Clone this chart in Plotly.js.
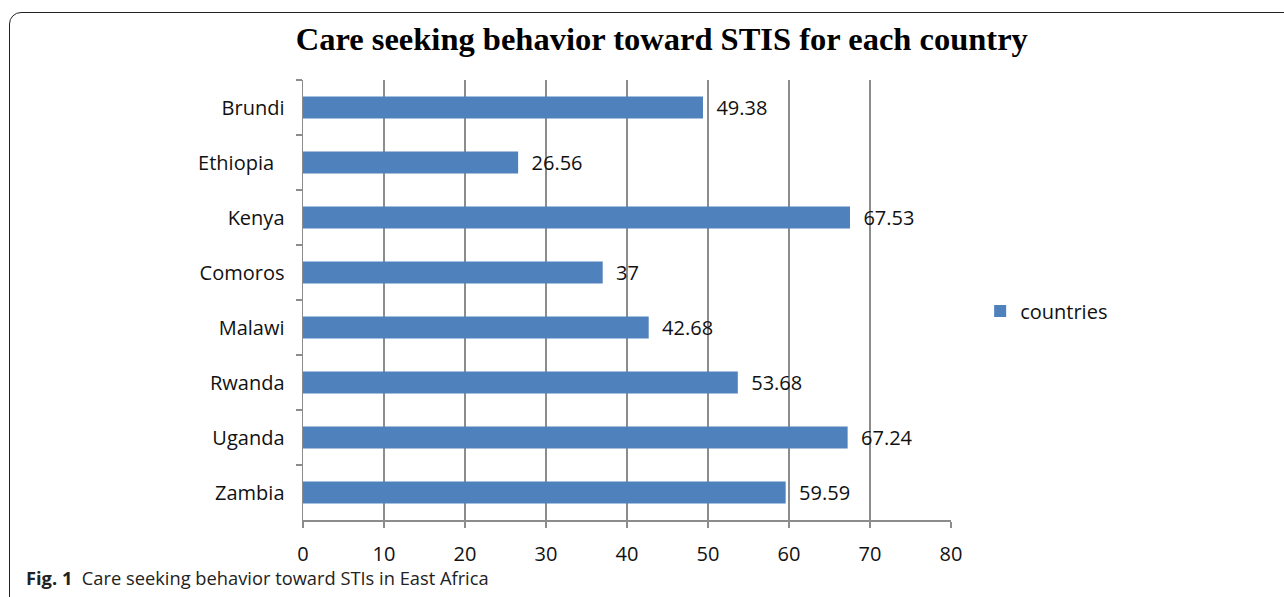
<!DOCTYPE html>
<html>
<head>
<meta charset="utf-8">
<script src="https://cdn.plot.ly/plotly-3.0.1.min.js"></script>
<style>
  html, body { margin: 0; padding: 0; background: #fff; }
  #wrap { position: relative; width: 1284px; height: 597px; overflow: hidden; }
  #frame { position: absolute; left: 9px; top: 12px; width: 1400px; height: 700px;
           border: 1px solid #222; border-radius: 12px; box-sizing: border-box; }
  #chart { position: absolute; left: 0; top: 0; width: 1284px; height: 597px; }
</style>
</head>
<body>
<div id="wrap">
  <div id="frame"></div>
  <div id="chart"></div>
</div>
<script>
const categories = ["Brundi", "Ethiopia\u00a0\u00a0", "Kenya", "Comoros", "Malawi", "Rwanda", "Uganda", "Zambia"];
const values = [49.38, 26.56, 67.53, 37, 42.68, 53.68, 67.24, 59.59];
const valueLabels = ["49.38", "26.56", "67.53", "37", "42.68", "53.68", "67.24", "59.59"];
const xTicks = [0, 10, 20, 30, 40, 50, 60, 70, 80];
const seriesName = "countries";
const chartTitle = "Care seeking behavior toward STIS for each country";
const captionBold = "Fig. 1";
const captionText = "Care seeking behavior toward STIs in East Africa";

const labelFont = { family: "Open Sans, Noto Sans, sans-serif", size: 20, color: "#111" };

const trace = {
  type: "bar",
  orientation: "h",
  y: categories,
  x: values,
  name: seriesName,
  marker: { color: "#4F81BD" },
  width: 0.4,
  text: valueLabels.map(v => "\u00a0\u00a0" + v),
  textposition: "outside",
  constraintext: "none",
  textfont: labelFont,
  cliponaxis: false,
  showlegend: true,
  hoverinfo: "x+y"
};

const layout = {
  width: 1284,
  height: 597,
  margin: { l: 303, r: 333, t: 80, b: 77 },
  paper_bgcolor: "rgba(0,0,0,0)",
  plot_bgcolor: "rgba(0,0,0,0)",
  title: {
    text: "<b>" + chartTitle + "</b>",
    font: { family: "Liberation Serif, Times New Roman, serif", size: 32.5, color: "#000" },
    x: 0.5154, xanchor: "center", y: 0.935, yanchor: "middle"
  },
  xaxis: {
    range: [0, 80],
    tickvals: xTicks,
    ticktext: xTicks.map(String),
    showgrid: true,
    gridcolor: "#8c8c8c",
    gridwidth: 1.5,
    showline: true,
    linecolor: "#8c8c8c",
    linewidth: 1.5,
    ticks: "outside",
    ticklen: 6,
    tickcolor: "#8c8c8c",
    tickwidth: 1.5,
    ticklabelstandoff: 9,
    tickfont: labelFont,
    zeroline: false,
    fixedrange: true
  },
  yaxis: {
    autorange: "reversed",
    type: "category",
    showline: true,
    linecolor: "#8c8c8c",
    linewidth: 1.5,
    ticks: "outside",
    tickson: "boundaries",
    ticklen: 6,
    tickcolor: "#8c8c8c",
    tickwidth: 1.5,
    ticklabelstandoff: 13,
    tickfont: labelFont,
    showgrid: false,
    zeroline: false,
    fixedrange: true
  },
  bargap: 0.6,
  legend: {
    x: 1.045, xanchor: "left",
    y: 0.475, yanchor: "middle",
    font: labelFont,
    bgcolor: "rgba(0,0,0,0)",
    itemwidth: 30
  },
  annotations: [{
    xref: "paper", yref: "paper",
    x: -0.431, y: -0.131, xanchor: "left", yanchor: "middle",
    showarrow: false,
    text: "<b>" + captionBold + "</b>\u00a0 " + captionText,
    font: { family: "Open Sans, Noto Sans, sans-serif", size: 18.3, color: "#222" }
  }]
};

Plotly.newPlot("chart", [trace], layout, { displayModeBar: false, staticPlot: true });
</script>
</body>
</html>
